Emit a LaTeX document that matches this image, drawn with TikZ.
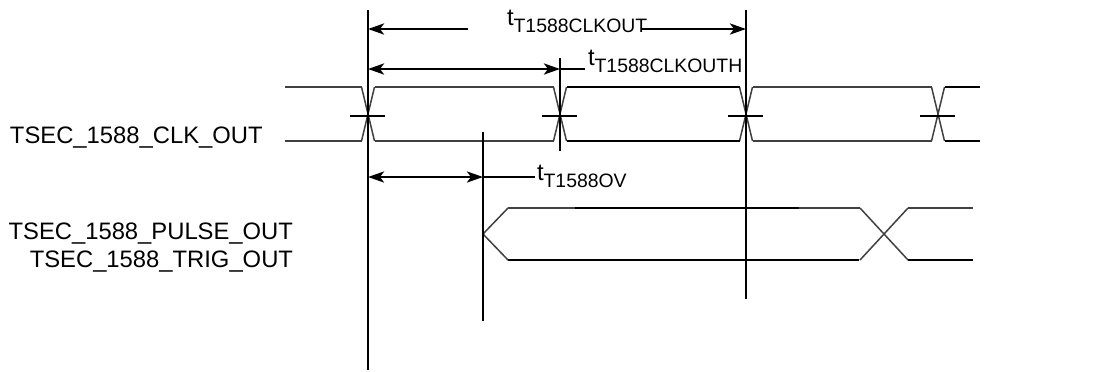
\documentclass[tikz,border=0pt]{standalone}
\usepackage{fontspec}
\setmainfont{Liberation Sans}
\usetikzlibrary{arrows.meta}

\newcommand{\tsub}[1]{t\raisebox{-3.5pt}{\fontsize{9.7}{10}\selectfont #1}}

\begin{document}
\begin{tikzpicture}[x = 0.5pt, y = -0.5pt, % one unit is one pixel of the sheet
                > = {Stealth[length = 8pt, width = 5.5pt, inset = 2pt]}, % arrow head style
                font = \fontsize{11.9}{14}\selectfont
            ]

            \tikzstyle{every node}=[inner sep = 0pt, outer sep = 0pt]
            \tikzstyle{edge}=[line width = 1.4pt]
            \tikzstyle{wave}=[line width = 0.75pt, black!75]
            \tikzstyle{waveb}=[line width = 1.3pt]
            \tikzstyle{tick}=[line width = 1pt]

            \useasboundingbox (0,0) rectangle (1111,371);

            % reference edges
            \coordinate (v1t) at (368,10); \coordinate (v1b) at (368,370);
            \coordinate (v2t) at (560,58); \coordinate (v2b) at (560,151);
            \coordinate (v3t) at (746,10); \coordinate (v3b) at (746,299);
            \coordinate (v4t) at (483,132); \coordinate (v4b) at (483,321);

            % clock
            \foreach \c in {368,560,746,938} {
                \draw[wave] (\c-6.5,87) -- (\c+6.5,141);
                \draw[wave] (\c-6.5,141) -- (\c+6.5,87);
                \draw[tick] (\c-18,116) -- (\c+17,116);
            }
            \foreach \a/\b/\s in {285/361.5/wave, 374.5/553.5/wave,
                566.5/739.5/waveb, 752.5/931.5/wave, 944.5/980/waveb} {
                \draw[\s] (\a,87) -- (\b,87); \draw[\s] (\a,141) -- (\b,141);
            }

            % pulse / trig
            \draw[wave] (508,208) -- (483,234) -- (508,260);
            \draw[wave] (508,208) -- (575,208); \draw[waveb] (575,208) -- (799,208);
            \draw[wave] (799,208) -- (860,208);
            \draw[waveb] (508,260) -- (859,260);
            \draw[wave] (860,208) -- (908,260); \draw[wave] (860,260) -- (908,208);
            \draw[wave] (908,208) -- (973,208); \draw[waveb] (908,260) -- (973,260);

            \path[edge] (v1t) edge (v1b) (v2t) edge (v2b) (v3t) edge (v3b)
                (v4t) edge (v4b);

            % signal names
            \node (clk) [anchor = base west] at (10,143) {TSEC\_1588\_CLK\_OUT};
            \node (pulse) [anchor = base east] at (293,239) {TSEC\_1588\_PULSE\_OUT};
            \node (trig) [anchor = base east] at (293,267) {TSEC\_1588\_TRIG\_OUT};

            % timing labels
            \node (lclk) [anchor = base west] at (507,25) {\tsub{T1588CLKOUT}};
            \node (lclkh) [anchor = base west] at (588,65) {\tsub{T1588CLKOUTH}};
            \node (lov) [anchor = base west] at (537,180) {\tsub{T1588OV}};

            \coordinate (a1) at (468,29); \coordinate (a2) at (642,29);
            \coordinate (b1) at (368,69); \coordinate (b2) at (585,69);
            \coordinate (c1) at (368,177); \coordinate (c2) at (535,177);

            \draw[->, edge] (a1) -- (a1 -| v1t);
            \draw[->, edge] (a2) -- (a2 -| v3t);
            \draw[<->, edge] (b1) -- (b1 -| v2t);
            \draw[edge] (b1 -| v2t) -- (b2);
            \draw[<->, edge] (c1) -- (c1 -| v4t);
            \draw[edge] (c1 -| v4t) -- (c2);
        \end{tikzpicture}
\end{document}
